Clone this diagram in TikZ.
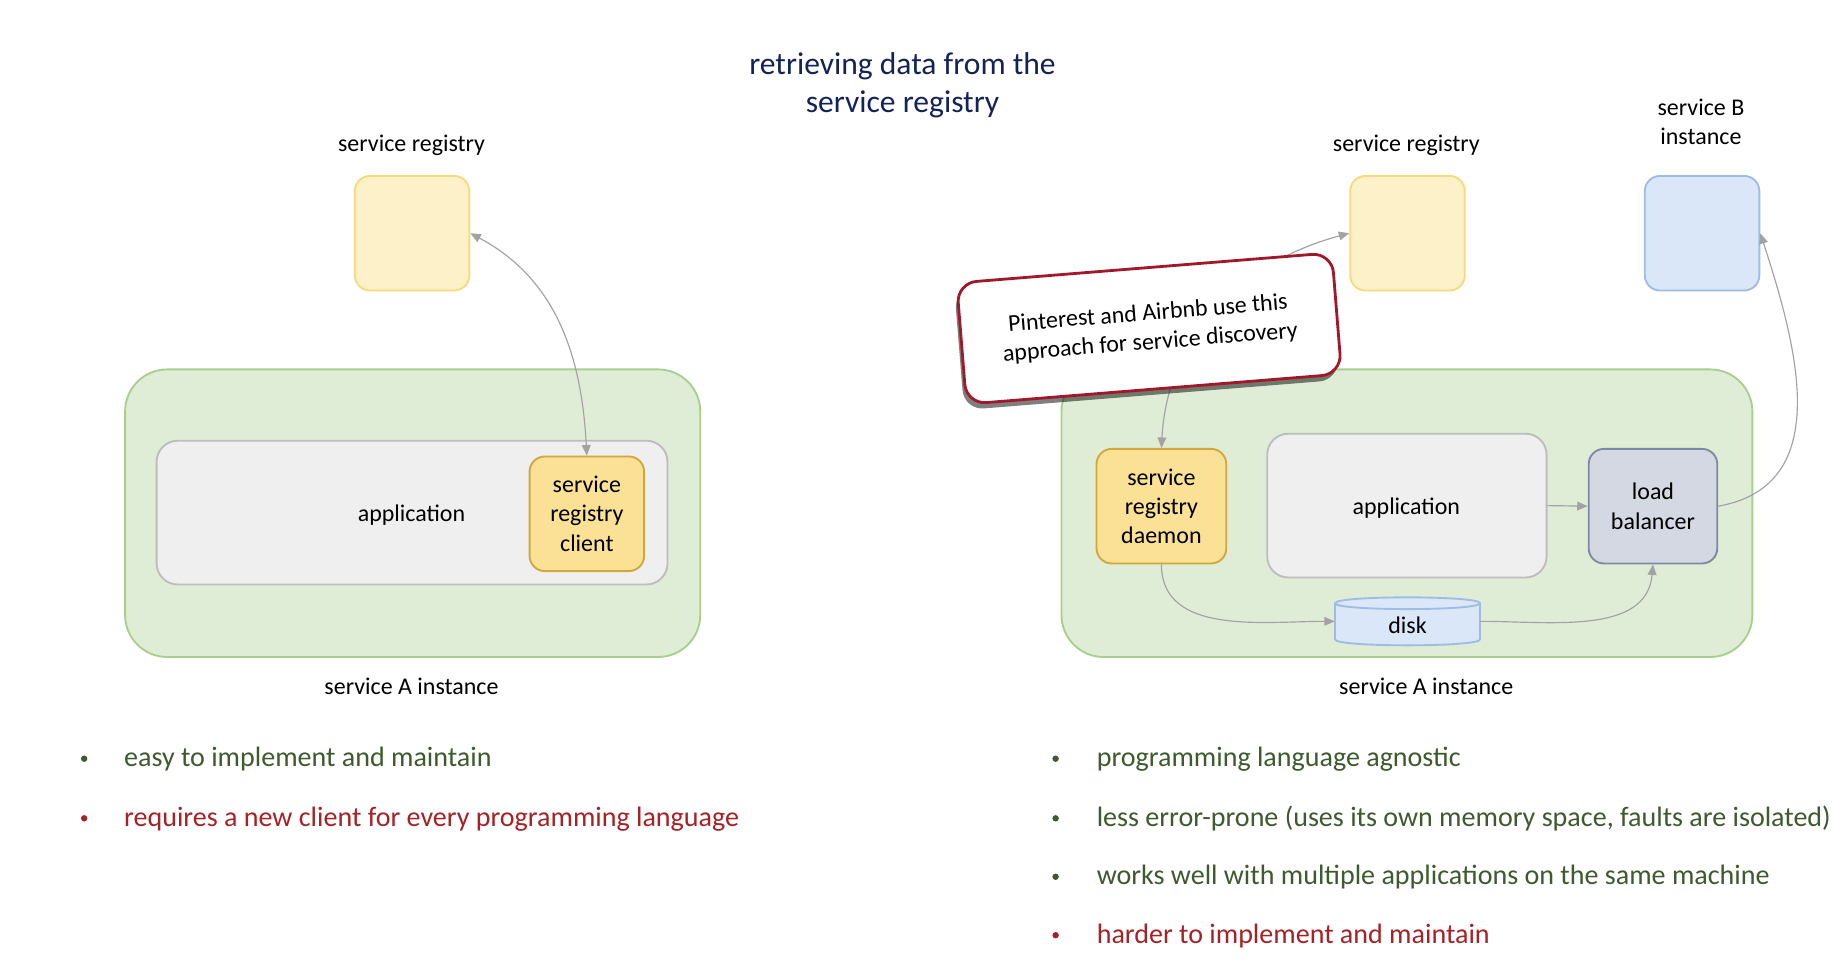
\documentclass[tikz,border=0pt]{standalone}
\usepackage{fontspec}
\setmainfont{Carlito}
\usetikzlibrary{arrows.meta,shadows}
\definecolor{regfill}{HTML}{FDF1C9}
\definecolor{regdraw}{HTML}{F8DA7A}
\definecolor{greenfill}{HTML}{E0EDD6}
\definecolor{greendraw}{HTML}{A9CF8E}
\definecolor{appfill}{HTML}{EFEFEF}
\definecolor{appdraw}{HTML}{BDBDBD}
\definecolor{clientfill}{HTML}{FAE196}
\definecolor{clientdraw}{HTML}{CFA83E}
\definecolor{bluefill}{HTML}{DAE7F8}
\definecolor{bluedraw}{HTML}{A0BCE2}
\definecolor{lbfill}{HTML}{D3D8E2}
\definecolor{lbdraw}{HTML}{7E89A3}
\definecolor{calloutdraw}{HTML}{A0192A}
\definecolor{arrowgray}{HTML}{A3A3A3}
\definecolor{titlecol}{HTML}{13235A}
\definecolor{goodcol}{HTML}{3E5A2E}
\definecolor{badcol}{HTML}{A52226}
\newcommand{\dtext}{\fontsize{20.5}{25}\selectfont}
\begin{document}
\begin{tikzpicture}[x=1pt,y=-1pt,
  lbl/.style={font=\dtext, align=center, inner sep=0pt},
  regbox/.style={draw=regdraw, fill=regfill, line width=1.6pt, rounded corners=13pt, minimum width=98pt, minimum height=98pt, inner sep=0pt},
  bluebox/.style={regbox, draw=bluedraw, fill=bluefill},
  contbox/.style={draw=greendraw, fill=greenfill, line width=1.6pt, rounded corners=36pt, inner sep=0pt},
  appbox/.style={draw=appdraw, fill=appfill, line width=1.6pt, rounded corners=18pt, inner sep=0pt, font=\dtext, align=center},
  clientbox/.style={draw=clientdraw, fill=clientfill, line width=1.6pt, rounded corners=13pt, inner sep=0pt, font=\dtext, align=center, minimum height=98pt},
  lbbox/.style={clientbox, draw=lbdraw, fill=lbfill},
  conn/.style={draw=arrowgray, line width=1pt, -{Triangle[length=9pt,width=7.5pt]}},
  conntwo/.style={draw=arrowgray, line width=1pt, {Triangle[length=9pt,width=7.5pt]}-{Triangle[length=9pt,width=7.5pt]}},
  callout/.style={draw=calloutdraw, fill=white, line width=2.4pt, rounded corners=17pt, minimum width=322pt, minimum height=104pt, align=center, font=\dtext, inner sep=0pt,
    drop shadow={shadow xshift=-2pt, shadow yshift=-5pt, opacity=0.5, fill=black}},
  bdot/.style={circle, inner sep=0pt, minimum size=5.5pt},
  btext/.style={font=\fontsize{24}{29}\selectfont, anchor=base west, inner sep=0pt}
]
\fill[white] (0,0) rectangle (1568,830);
\useasboundingbox (0,0) rectangle (1568,830);

% title
\node[font=\fontsize{27}{33}\selectfont, text=titlecol, align=center, inner sep=0pt] (title) at (772,73) {retrieving data from the\\service registry};

% ---------- left diagram ----------
\node[lbl, anchor=base] (lreglbl) at (352,130) {service registry};
\node[regbox] (lreg) at (352.5,199.5) {};
\node[contbox, minimum width=492pt, minimum height=246pt] (lcont) at (353,439) {};
\node[appbox, minimum width=437pt, minimum height=123pt] (lapp) at (352.5,438.5) {};
\node[lbl, anchor=base] (lapptxt) at (352,446) {application};
\node[clientbox, minimum width=98pt] (lclient) at (502,439.5) {service\\registry\\client};
\node[lbl, anchor=base] (lcontlbl) at (352,594) {service A instance};
\draw[conntwo] (lclient.north) to[out=93,in=-28] (lreg.east);

% ---------- right diagram ----------
\node[lbl, anchor=base] (rreglbl) at (1203,130) {service registry};
\node[regbox] (rreg) at (1204,199.5) {};
\node[lbl] (rblbl) at (1455,104) {service B\\instance};
\node[bluebox] (rblue) at (1456,199.5) {};
\node[contbox, minimum width=591pt, minimum height=246pt] (rcont) at (1203.5,439) {};
\node[clientbox, minimum width=111pt] (daemon) at (993.5,433) {service\\registry\\daemon};
\node[appbox, minimum width=239pt, minimum height=123pt] (rapp) at (1203.5,432.5) {};
\node[lbl, anchor=base] (rapptxt) at (1203,440) {application};
\node[lbbox, minimum width=110pt] (lb) at (1414,433) {load\\balancer};
\node[inner sep=0pt, minimum width=124pt, minimum height=41pt] (disk) at (1204,531.5) {};
\filldraw[fill=bluefill, draw=bluedraw, line width=1.6pt] (1142,516) -- (1142,547) .. controls (1142,553.7) and (1266,553.7) .. (1266,547) -- (1266,516) .. controls (1266,509.3) and (1142,509.3) .. (1142,516) -- cycle;
\draw[draw=bluedraw, line width=1.6pt] (1142,516) .. controls (1142,522.7) and (1266,522.7) .. (1266,516);
\node[lbl, anchor=base] (disktxt) at (1204,542) {disk};
\node[lbl, anchor=base] (rcontlbl) at (1220,594) {service A instance};

\draw[conn] (rapp.east) -- (lb.west);
\draw[conn] (daemon.south) to[out=-90,in=180] (disk.west);
\draw[conn] (disk.east) to[out=0,in=-95] (lb.south);
\draw[conn] (lb.east) to[out=10,in=-72,looseness=1.1] (rblue.east);
\draw[conntwo] (daemon.north) to[out=87,in=195] (rreg.west);

\node[callout, rotate=4.6] (call) at (983,281) {Pinterest and Airbnb use this\\approach for service discovery};

% ---------- bullets ----------
\node[bdot, fill=goodcol] (lb1) at (72,649) {};
\node[btext, text=goodcol] (lt1) at (106,656) {easy to implement and maintain};
\node[bdot, fill=badcol] (lb2) at (72,700) {};
\node[btext, text=badcol] (lt2) at (106,707) {requires a new client for every programming language};

\node[bdot, fill=goodcol] (rb1) at (903,649) {};
\node[btext, text=goodcol] (rt1) at (938,656) {programming language agnostic};
\node[bdot, fill=goodcol] (rb2) at (903,700) {};
\node[btext, text=goodcol] (rt2) at (938,707) {less error-prone (uses its own memory space, faults are isolated)};
\node[bdot, fill=goodcol] (rb3) at (903,750) {};
\node[btext, text=goodcol] (rt3) at (938,757) {works well with multiple applications on the same machine};
\node[bdot, fill=badcol] (rb4) at (903,800) {};
\node[btext, text=badcol] (rt4) at (938,807) {harder to implement and maintain};
\end{tikzpicture}
\end{document}
